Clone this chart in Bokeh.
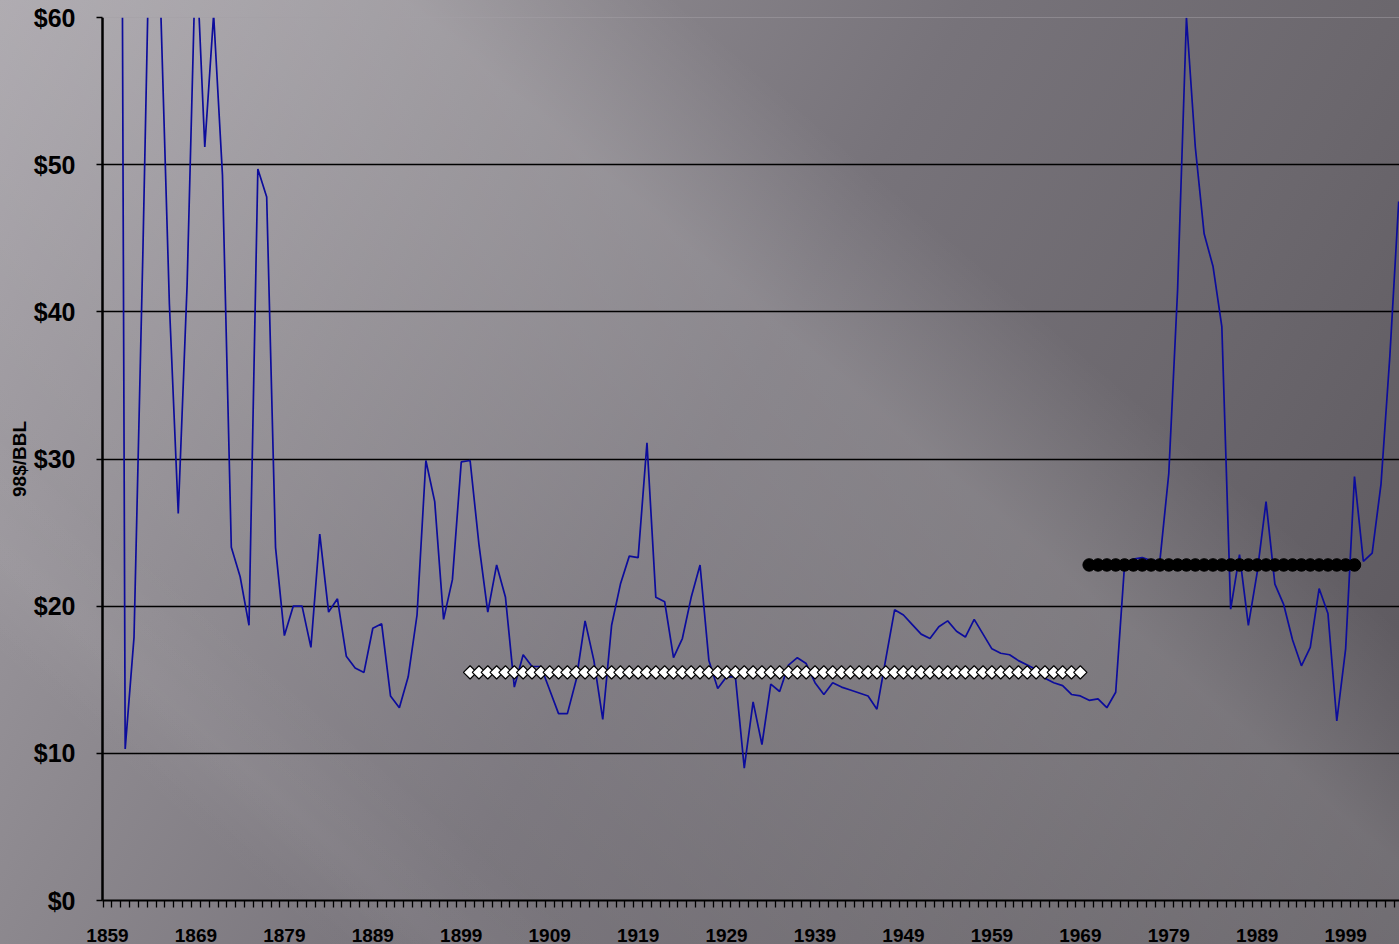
import math
from bokeh.plotting import figure
from bokeh.models import Range1d, FixedTicker, PrintfTickFormatter, Span
from bokeh.embed import file_html
from bokeh.resources import INLINE

# Crude oil price, 1998 dollars per barrel, 1859-2005
years = list(range(1859, 2006))
price = [
    290.0, 172.0, 10.3, 17.9, 44.0, 73.5, 61.0, 40.5, 26.3, 41.8,      # 1859-1868
    65.0, 51.2, 60.2, 49.3, 24.0, 22.0, 18.7, 49.7, 47.8, 24.0,        # 1869-1878
    18.0, 20.0, 20.0, 17.2, 24.9, 19.6, 20.5, 16.6, 15.8, 15.5,        # 1879-1888
    18.5, 18.8, 13.9, 13.1, 15.2, 19.4, 29.9, 27.1, 19.1, 21.8,        # 1889-1898
    29.8, 29.9, 24.2, 19.6, 22.8, 20.6, 14.5, 16.7, 15.9, 15.9,        # 1899-1908
    14.3, 12.7, 12.7, 15.0, 19.0, 16.3, 12.3, 18.7, 21.5, 23.4,        # 1909-1918
    23.3, 31.1, 20.6, 20.3, 16.5, 17.8, 20.6, 22.8, 16.3, 14.4,        # 1919-1928
    15.2, 15.2, 9.0, 13.5, 10.6, 14.7, 14.2, 16.0, 16.5, 16.1,         # 1929-1938
    14.8, 14.0, 14.8, 14.5, 14.3, 14.1, 13.9, 13.0, 16.4, 19.75,       # 1939-1948
    19.4, 18.75, 18.1, 17.8, 18.6, 19.0, 18.3, 17.9, 19.1, 18.1,       # 1949-1958
    17.1, 16.8, 16.7, 16.3, 16.0, 15.7, 15.1, 14.8, 14.6, 14.0,        # 1959-1968
    13.9, 13.6, 13.7, 13.1, 14.15, 22.8, 23.2, 23.3, 23.1, 23.1,       # 1969-1978
    29.0, 41.5, 60.0, 51.2, 45.3, 43.1, 39.0, 19.8, 23.5, 18.7,        # 1979-1988
    22.3, 27.1, 21.5, 20.1, 17.7, 15.95, 17.2, 21.2, 19.5, 12.2,       # 1989-1998
    17.1, 28.8, 23.05, 23.6, 28.3, 37.0, 47.5,                         # 1999-2005
]
assert len(price) == len(years)

# Period averages
avg_early_years = list(range(1900, 1970))
avg_early_value = [15.5] * len(avg_early_years)
avg_late_years = list(range(1970, 2001))
avg_late_value = [22.8] * len(avg_late_years)

y_ticks = [0, 10, 20, 30, 40, 50, 60]
x_label_years = list(range(1859, 2000, 10))

FONT = "Liberation Sans"

p = figure(
    width=1399, height=944,
    output_backend="svg", toolbar_location=None,
    x_range=Range1d(1858.435, 2005.09), y_range=Range1d(0, 60),
    min_border_left=102, min_border_right=0,
    min_border_top=17, min_border_bottom=44,
)

# slide-style grey backdrop with soft diagonal light streaks
bg = (
    "linear-gradient(41deg, rgba(255,255,255,0) 12%, rgba(255,255,255,0.05) 30%, "
    "rgba(255,255,255,0.13) 52%, rgba(255,255,255,0.15) 60%, rgba(255,255,255,0) 71%), "
    "linear-gradient(41deg, rgba(255,255,255,0) 14%, rgba(255,255,255,0.04) 18%, "
    "rgba(255,255,255,0) 24%), "
    "linear-gradient(120deg, #a7a3a9 0%, #8c888e 28%, #77737a 50%, "
    "#6b676d 72%, #59555b 100%)"
)
p.styles = {"background": bg}
p.background_fill_alpha = 0
p.border_fill_alpha = 0
p.outline_line_color = None

# grid
p.xgrid.visible = False
p.ygrid.ticker = FixedTicker(ticks=[10, 20, 30, 40, 50])
p.ygrid.grid_line_color = "black"
p.ygrid.grid_line_width = 1.6
p.add_layout(Span(location=60, dimension="width", line_color="#a3a0a6", line_width=1.2))

# y axis
yax = p.yaxis[0]
yax.ticker = FixedTicker(ticks=y_ticks)
yax.formatter = PrintfTickFormatter(format="$%d")
yax.axis_line_color = "black"
yax.axis_line_width = 2.5
yax.major_tick_out = 6
yax.major_tick_in = 0
yax.major_tick_line_width = 1.5
yax.minor_tick_line_color = None
yax.major_label_standoff = 21
yax.major_label_text_font = FONT
yax.major_label_text_font_style = "bold"
yax.major_label_text_font_size = "25px"
yax.major_label_text_color = "black"
yax.axis_label = "98$/BBL"
yax.axis_label_text_font = FONT
yax.axis_label_text_font_style = "bold"
yax.axis_label_text_font_size = "19px"
yax.axis_label_text_color = "black"
yax.axis_label_standoff = 1

# x axis: year tick marks at category boundaries, labels every decade
xax = p.xaxis[0]
xax.ticker = FixedTicker(ticks=x_label_years, minor_ticks=[y - 0.5 for y in years])
xax.axis_line_color = "black"
xax.axis_line_width = 2
xax.major_tick_out = 0
xax.major_tick_in = 0
xax.minor_tick_out = 7
xax.minor_tick_in = 0
xax.minor_tick_line_color = "black"
xax.minor_tick_line_width = 1.3
xax.major_label_standoff = 21
xax.major_label_text_font = FONT
xax.major_label_text_font_style = "bold"
xax.major_label_text_font_size = "19px"
xax.major_label_text_color = "black"

# series
p.line(years, price, line_color="#0c0c9c", line_width=1.7)
p.scatter(avg_early_years, avg_early_value, marker="square", angle=math.pi / 4,
          size=9.4, fill_color="white", line_color="black", line_width=1.2)
p.scatter(avg_late_years, avg_late_value, marker="circle", size=12.5,
          fill_color="black", line_color="black", line_width=1)

open("out.html", "w").write(file_html(p, INLINE))
